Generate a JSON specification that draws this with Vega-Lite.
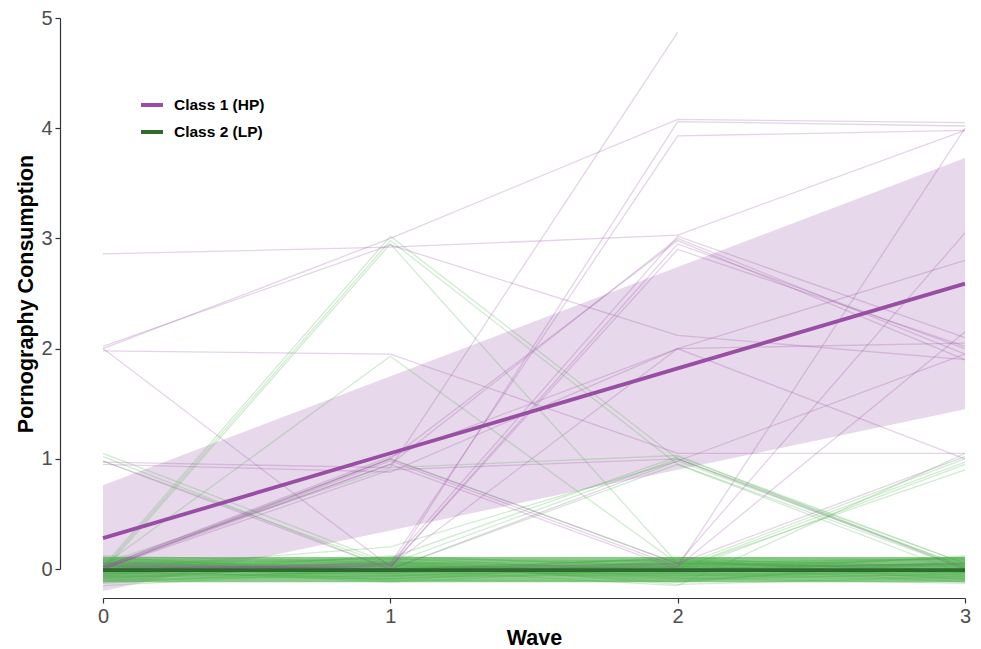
{
  "$schema": "https://vega.github.io/schema/vega-lite/v6.json",
  "width": 862,
  "height": 551,
  "autosize": {"type": "none"},
  "padding": {"left": 103, "top": 18, "right": 16, "bottom": 80},
  "background": "white",
  "config": {
    "view": {"stroke": null},
    "font": "Liberation Sans",
    "axis": {
      "grid": false,
      "domainColor": "#333333",
      "tickColor": "#333333",
      "domainWidth": 1.2,
      "tickWidth": 1.2,
      "tickSize": 5,
      "labelColor": "#4d4d4d",
      "labelFont": "Liberation Sans",
      "labelFontSize": 20,
      "labelFlush": false,
      "titleFont": "Liberation Sans",
      "titleFontSize": 21.5,
      "titleFontWeight": "bold",
      "titleColor": "#000000",
      "format": "d"
    },
    "axisX": {"offset": 29, "labelPadding": 3, "titlePadding": 1},
    "axisY": {"offset": 43, "labelPadding": 3, "titlePadding": 3}
  },
  "datasets": {
    "summary": [
      {"cls": "Class 1 (HP)", "wave": 0, "m": 0.28, "lo": -0.2, "hi": 0.76},
      {"cls": "Class 1 (HP)", "wave": 1, "m": 1.05, "lo": 0.35, "hi": 1.75},
      {"cls": "Class 1 (HP)", "wave": 2, "m": 1.82, "lo": 0.9, "hi": 2.74},
      {"cls": "Class 1 (HP)", "wave": 3, "m": 2.59, "lo": 1.45, "hi": 3.73},
      {"cls": "Class 2 (LP)", "wave": 0, "m": -0.01, "lo": -0.12, "hi": 0.11},
      {"cls": "Class 2 (LP)", "wave": 1, "m": -0.01, "lo": -0.12, "hi": 0.11},
      {"cls": "Class 2 (LP)", "wave": 2, "m": -0.01, "lo": -0.12, "hi": 0.11},
      {"cls": "Class 2 (LP)", "wave": 3, "m": -0.01, "lo": -0.12, "hi": 0.11}
    ],
    "traj": [
      {"id":"p1","k":1,"wave":0,"v":2.86},{"id":"p1","k":1,"wave":1,"v":2.92},{"id":"p1","k":1,"wave":2,"v":3.03},{"id":"p1","k":1,"wave":3,"v":3.98},
      {"id":"p2","k":1,"wave":0,"v":2.00},{"id":"p2","k":1,"wave":1,"v":3.00},{"id":"p2","k":1,"wave":2,"v":4.08},{"id":"p2","k":1,"wave":3,"v":4.05},
      {"id":"p3","k":1,"wave":0,"v":2.02},{"id":"p3","k":1,"wave":1,"v":2.94},{"id":"p3","k":1,"wave":2,"v":2.12},{"id":"p3","k":1,"wave":3,"v":1.90},
      {"id":"p4","k":1,"wave":0,"v":1.98},{"id":"p4","k":1,"wave":1,"v":1.95},{"id":"p4","k":1,"wave":2,"v":1.05},{"id":"p4","k":1,"wave":3,"v":1.05},
      {"id":"p5","k":1,"wave":0,"v":2.00},{"id":"p5","k":1,"wave":1,"v":0.02},{"id":"p5","k":1,"wave":2,"v":2.95},{"id":"p5","k":1,"wave":3,"v":2.00},
      {"id":"p6","k":1,"wave":0,"v":0.97},{"id":"p6","k":1,"wave":1,"v":0.92},{"id":"p6","k":1,"wave":2,"v":4.87},
      {"id":"p7","k":1,"wave":0,"v":0.95},{"id":"p7","k":1,"wave":1,"v":0.88},{"id":"p7","k":1,"wave":2,"v":2.00},{"id":"p7","k":1,"wave":3,"v":2.05},
      {"id":"p8","k":1,"wave":0,"v":0.02},{"id":"p8","k":1,"wave":1,"v":0.95},{"id":"p8","k":1,"wave":2,"v":3.00},{"id":"p8","k":1,"wave":3,"v":1.95},
      {"id":"p9","k":1,"wave":0,"v":0.00},{"id":"p9","k":1,"wave":1,"v":1.00},{"id":"p9","k":1,"wave":2,"v":0.05},{"id":"p9","k":1,"wave":3,"v":3.05},
      {"id":"p10","k":1,"wave":0,"v":0.00},{"id":"p10","k":1,"wave":1,"v":0.05},{"id":"p10","k":1,"wave":2,"v":3.93},{"id":"p10","k":1,"wave":3,"v":3.98},
      {"id":"p11","k":1,"wave":0,"v":0.03},{"id":"p11","k":1,"wave":1,"v":0.00},{"id":"p11","k":1,"wave":2,"v":4.06},{"id":"p11","k":1,"wave":3,"v":4.02},
      {"id":"p12","k":1,"wave":0,"v":0.00},{"id":"p12","k":1,"wave":1,"v":0.02},{"id":"p12","k":1,"wave":2,"v":2.90},{"id":"p12","k":1,"wave":3,"v":2.02},
      {"id":"p13","k":1,"wave":0,"v":-0.02},{"id":"p13","k":1,"wave":1,"v":0.05},{"id":"p13","k":1,"wave":2,"v":3.02},{"id":"p13","k":1,"wave":3,"v":2.10},
      {"id":"p14","k":1,"wave":0,"v":0.02},{"id":"p14","k":1,"wave":1,"v":1.02},{"id":"p14","k":1,"wave":2,"v":2.00},{"id":"p14","k":1,"wave":3,"v":2.80},
      {"id":"p15","k":1,"wave":0,"v":0.00},{"id":"p15","k":1,"wave":1,"v":0.98},{"id":"p15","k":1,"wave":2,"v":0.02},{"id":"p15","k":1,"wave":3,"v":2.15},
      {"id":"p16","k":1,"wave":0,"v":0.05},{"id":"p16","k":1,"wave":1,"v":0.00},{"id":"p16","k":1,"wave":2,"v":0.02},{"id":"p16","k":1,"wave":3,"v":4.00},
      {"id":"p17","k":1,"wave":0,"v":0.00},{"id":"p17","k":1,"wave":1,"v":0.90},{"id":"p17","k":1,"wave":2,"v":1.00},{"id":"p17","k":1,"wave":3,"v":0.00},
      {"id":"p18","k":1,"wave":0,"v":0.03},{"id":"p18","k":1,"wave":1,"v":0.00},{"id":"p18","k":1,"wave":2,"v":0.98},{"id":"p18","k":1,"wave":3,"v":1.95},
      {"id":"p19","k":1,"wave":0,"v":0.00},{"id":"p19","k":1,"wave":1,"v":0.03},{"id":"p19","k":1,"wave":2,"v":2.00},{"id":"p19","k":1,"wave":3,"v":1.00},
      {"id":"p20","k":1,"wave":0,"v":0.02},{"id":"p20","k":1,"wave":1,"v":1.00},{"id":"p20","k":1,"wave":2,"v":2.98},{"id":"p20","k":1,"wave":3,"v":1.90},
      {"id":"p21","k":1,"wave":0,"v":0.00},{"id":"p21","k":1,"wave":1,"v":0.95},{"id":"p21","k":1,"wave":2,"v":0.00},{"id":"p21","k":1,"wave":3,"v":0.05},
      {"id":"p22","k":1,"wave":0,"v":0.98},{"id":"p22","k":1,"wave":1,"v":0.00},{"id":"p22","k":1,"wave":2,"v":0.05},{"id":"p22","k":1,"wave":3,"v":1.02},

      {"id":"g1","k":2,"wave":0,"v":1.05},{"id":"g1","k":2,"wave":1,"v":0.05},{"id":"g1","k":2,"wave":2,"v":0.02},{"id":"g1","k":2,"wave":3,"v":-0.03},
      {"id":"g2","k":2,"wave":0,"v":1.02},{"id":"g2","k":2,"wave":1,"v":0.00},{"id":"g2","k":2,"wave":2,"v":0.95},{"id":"g2","k":2,"wave":3,"v":0.00},
      {"id":"g3","k":2,"wave":0,"v":0.98},{"id":"g3","k":2,"wave":1,"v":0.03},{"id":"g3","k":2,"wave":2,"v":0.00},{"id":"g3","k":2,"wave":3,"v":0.97},
      {"id":"g4","k":2,"wave":0,"v":0.02},{"id":"g4","k":2,"wave":1,"v":3.02},{"id":"g4","k":2,"wave":2,"v":1.00},{"id":"g4","k":2,"wave":3,"v":0.02},
      {"id":"g5","k":2,"wave":0,"v":-0.02},{"id":"g5","k":2,"wave":1,"v":2.95},{"id":"g5","k":2,"wave":2,"v":0.05},{"id":"g5","k":2,"wave":3,"v":0.00},
      {"id":"g6","k":2,"wave":0,"v":0.00},{"id":"g6","k":2,"wave":1,"v":2.98},{"id":"g6","k":2,"wave":2,"v":0.95},{"id":"g6","k":2,"wave":3,"v":-0.05},
      {"id":"g7","k":2,"wave":0,"v":0.03},{"id":"g7","k":2,"wave":1,"v":1.93},{"id":"g7","k":2,"wave":2,"v":0.05},{"id":"g7","k":2,"wave":3,"v":0.02},
      {"id":"g8","k":2,"wave":0,"v":0.00},{"id":"g8","k":2,"wave":1,"v":1.00},{"id":"g8","k":2,"wave":2,"v":0.05},{"id":"g8","k":2,"wave":3,"v":0.00},
      {"id":"g9","k":2,"wave":0,"v":0.05},{"id":"g9","k":2,"wave":1,"v":0.92},{"id":"g9","k":2,"wave":2,"v":1.03},{"id":"g9","k":2,"wave":3,"v":0.00},
      {"id":"g10","k":2,"wave":0,"v":0.00},{"id":"g10","k":2,"wave":1,"v":0.05},{"id":"g10","k":2,"wave":2,"v":1.00},{"id":"g10","k":2,"wave":3,"v":0.05},
      {"id":"g11","k":2,"wave":0,"v":0.00},{"id":"g11","k":2,"wave":1,"v":0.20},{"id":"g11","k":2,"wave":2,"v":0.98},{"id":"g11","k":2,"wave":3,"v":0.02},
      {"id":"g12","k":2,"wave":0,"v":0.02},{"id":"g12","k":2,"wave":1,"v":-0.02},{"id":"g12","k":2,"wave":2,"v":0.02},{"id":"g12","k":2,"wave":3,"v":1.00},
      {"id":"g13","k":2,"wave":0,"v":0.00},{"id":"g13","k":2,"wave":1,"v":0.03},{"id":"g13","k":2,"wave":2,"v":-0.03},{"id":"g13","k":2,"wave":3,"v":0.95},
      {"id":"g14","k":2,"wave":0,"v":-0.03},{"id":"g14","k":2,"wave":1,"v":0.00},{"id":"g14","k":2,"wave":2,"v":0.00},{"id":"g14","k":2,"wave":3,"v":0.90},
      {"id":"g15","k":2,"wave":0,"v":0.00},{"id":"g15","k":2,"wave":1,"v":0.00},{"id":"g15","k":2,"wave":2,"v":-0.15},{"id":"g15","k":2,"wave":3,"v":1.05},
      {"id":"g16","k":2,"wave":0,"v":0.05},{"id":"g16","k":2,"wave":1,"v":0.10},{"id":"g16","k":2,"wave":2,"v":1.02},{"id":"g16","k":2,"wave":3,"v":0.05},

      {"id":"g20","k":2,"wave":0,"v":0.02},{"id":"g20","k":2,"wave":1,"v":-0.03},{"id":"g20","k":2,"wave":2,"v":0.05},{"id":"g20","k":2,"wave":3,"v":0.01},
      {"id":"g21","k":2,"wave":0,"v":-0.05},{"id":"g21","k":2,"wave":1,"v":0.04},{"id":"g21","k":2,"wave":2,"v":-0.02},{"id":"g21","k":2,"wave":3,"v":0.06},
      {"id":"g22","k":2,"wave":0,"v":0.08},{"id":"g22","k":2,"wave":1,"v":0.01},{"id":"g22","k":2,"wave":2,"v":-0.06},{"id":"g22","k":2,"wave":3,"v":-0.03},
      {"id":"g23","k":2,"wave":0,"v":-0.10},{"id":"g23","k":2,"wave":1,"v":-0.06},{"id":"g23","k":2,"wave":2,"v":0.02},{"id":"g23","k":2,"wave":3,"v":0.04},
      {"id":"g24","k":2,"wave":0,"v":0.04},{"id":"g24","k":2,"wave":1,"v":0.09},{"id":"g24","k":2,"wave":2,"v":0.07},{"id":"g24","k":2,"wave":3,"v":-0.02},
      {"id":"g25","k":2,"wave":0,"v":-0.02},{"id":"g25","k":2,"wave":1,"v":-0.08},{"id":"g25","k":2,"wave":2,"v":-0.04},{"id":"g25","k":2,"wave":3,"v":-0.09},
      {"id":"g26","k":2,"wave":0,"v":0.06},{"id":"g26","k":2,"wave":1,"v":-0.01},{"id":"g26","k":2,"wave":2,"v":0.10},{"id":"g26","k":2,"wave":3,"v":0.08},
      {"id":"g27","k":2,"wave":0,"v":-0.07},{"id":"g27","k":2,"wave":1,"v":0.03},{"id":"g27","k":2,"wave":2,"v":-0.09},{"id":"g27","k":2,"wave":3,"v":0.00},
      {"id":"g28","k":2,"wave":0,"v":0.00},{"id":"g28","k":2,"wave":1,"v":0.06},{"id":"g28","k":2,"wave":2,"v":0.01},{"id":"g28","k":2,"wave":3,"v":-0.06},
      {"id":"g29","k":2,"wave":0,"v":0.11},{"id":"g29","k":2,"wave":1,"v":-0.04},{"id":"g29","k":2,"wave":2,"v":0.03},{"id":"g29","k":2,"wave":3,"v":0.09},
      {"id":"g30","k":2,"wave":0,"v":-0.13},{"id":"g30","k":2,"wave":1,"v":0.00},{"id":"g30","k":2,"wave":2,"v":-0.05},{"id":"g30","k":2,"wave":3,"v":-0.11},
      {"id":"g31","k":2,"wave":0,"v":0.03},{"id":"g31","k":2,"wave":1,"v":-0.11},{"id":"g31","k":2,"wave":2,"v":0.08},{"id":"g31","k":2,"wave":3,"v":0.03},
      {"id":"g32","k":2,"wave":0,"v":-0.04},{"id":"g32","k":2,"wave":1,"v":0.07},{"id":"g32","k":2,"wave":2,"v":-0.01},{"id":"g32","k":2,"wave":3,"v":0.11},
      {"id":"g33","k":2,"wave":0,"v":0.07},{"id":"g33","k":2,"wave":1,"v":0.02},{"id":"g33","k":2,"wave":2,"v":-0.10},{"id":"g33","k":2,"wave":3,"v":-0.04},
      {"id":"g34","k":2,"wave":0,"v":-0.08},{"id":"g34","k":2,"wave":1,"v":-0.02},{"id":"g34","k":2,"wave":2,"v":0.06},{"id":"g34","k":2,"wave":3,"v":0.02},
      {"id":"g35","k":2,"wave":0,"v":0.01},{"id":"g35","k":2,"wave":1,"v":0.10},{"id":"g35","k":2,"wave":2,"v":-0.03},{"id":"g35","k":2,"wave":3,"v":-0.07},
      {"id":"g36","k":2,"wave":0,"v":-0.01},{"id":"g36","k":2,"wave":1,"v":-0.05},{"id":"g36","k":2,"wave":2,"v":0.04},{"id":"g36","k":2,"wave":3,"v":0.07},
      {"id":"g37","k":2,"wave":0,"v":0.09},{"id":"g37","k":2,"wave":1,"v":0.05},{"id":"g37","k":2,"wave":2,"v":-0.07},{"id":"g37","k":2,"wave":3,"v":-0.01},
      {"id":"g38","k":2,"wave":0,"v":-0.06},{"id":"g38","k":2,"wave":1,"v":-0.09},{"id":"g38","k":2,"wave":2,"v":0.00},{"id":"g38","k":2,"wave":3,"v":0.05},
      {"id":"g39","k":2,"wave":0,"v":0.05},{"id":"g39","k":2,"wave":1,"v":0.00},{"id":"g39","k":2,"wave":2,"v":0.09},{"id":"g39","k":2,"wave":3,"v":-0.10},
      {"id":"g40","k":2,"wave":0,"v":-0.11},{"id":"g40","k":2,"wave":1,"v":0.08},{"id":"g40","k":2,"wave":2,"v":-0.08},{"id":"g40","k":2,"wave":3,"v":-0.05},
      {"id":"g41","k":2,"wave":0,"v":0.02},{"id":"g41","k":2,"wave":1,"v":-0.07},{"id":"g41","k":2,"wave":2,"v":0.02},{"id":"g41","k":2,"wave":3,"v":0.10},
      {"id":"g42","k":2,"wave":0,"v":-0.03},{"id":"g42","k":2,"wave":1,"v":0.01},{"id":"g42","k":2,"wave":2,"v":0.05},{"id":"g42","k":2,"wave":3,"v":-0.03},
      {"id":"g43","k":2,"wave":0,"v":0.10},{"id":"g43","k":2,"wave":1,"v":-0.03},{"id":"g43","k":2,"wave":2,"v":-0.02},{"id":"g43","k":2,"wave":3,"v":0.04},
      {"id":"g44","k":2,"wave":0,"v":-0.09},{"id":"g44","k":2,"wave":1,"v":0.05},{"id":"g44","k":2,"wave":2,"v":0.08},{"id":"g44","k":2,"wave":3,"v":-0.08},
      {"id":"g45","k":2,"wave":0,"v":0.03},{"id":"g45","k":2,"wave":1,"v":-0.06},{"id":"g45","k":2,"wave":2,"v":-0.06},{"id":"g45","k":2,"wave":3,"v":0.01},
      {"id":"g46","k":2,"wave":0,"v":-0.02},{"id":"g46","k":2,"wave":1,"v":0.11},{"id":"g46","k":2,"wave":2,"v":0.03},{"id":"g46","k":2,"wave":3,"v":-0.12},
      {"id":"g47","k":2,"wave":0,"v":0.06},{"id":"g47","k":2,"wave":1,"v":-0.10},{"id":"g47","k":2,"wave":2,"v":-0.11},{"id":"g47","k":2,"wave":3,"v":0.06},
      {"id":"g48","k":2,"wave":0,"v":-0.15},{"id":"g48","k":2,"wave":1,"v":-0.01},{"id":"g48","k":2,"wave":2,"v":0.07},{"id":"g48","k":2,"wave":3,"v":-0.02},
      {"id":"g49","k":2,"wave":0,"v":0.00},{"id":"g49","k":2,"wave":1,"v":0.03},{"id":"g49","k":2,"wave":2,"v":-0.04},{"id":"g49","k":2,"wave":3,"v":0.12},
      {"id":"g50","k":2,"wave":0,"v":0.04},{"id":"g50","k":2,"wave":1,"v":-0.04},{"id":"g50","k":2,"wave":2,"v":0.11},{"id":"g50","k":2,"wave":3,"v":-0.06},
      {"id":"g51","k":2,"wave":0,"v":-0.05},{"id":"g51","k":2,"wave":1,"v":0.09},{"id":"g51","k":2,"wave":2,"v":-0.01},{"id":"g51","k":2,"wave":3,"v":0.03},
      {"id":"g52","k":2,"wave":0,"v":0.07},{"id":"g52","k":2,"wave":1,"v":-0.02},{"id":"g52","k":2,"wave":2,"v":0.04},{"id":"g52","k":2,"wave":3,"v":-0.09},
      {"id":"g53","k":2,"wave":0,"v":-0.08},{"id":"g53","k":2,"wave":1,"v":0.04},{"id":"g53","k":2,"wave":2,"v":-0.12},{"id":"g53","k":2,"wave":3,"v":0.08},
      {"id":"g54","k":2,"wave":0,"v":0.01},{"id":"g54","k":2,"wave":1,"v":-0.12},{"id":"g54","k":2,"wave":2,"v":0.01},{"id":"g54","k":2,"wave":3,"v":-0.04},
      {"id":"g55","k":2,"wave":0,"v":0.12},{"id":"g55","k":2,"wave":1,"v":0.06},{"id":"g55","k":2,"wave":2,"v":-0.05},{"id":"g55","k":2,"wave":3,"v":0.00},
      {"id":"g56","k":2,"wave":0,"v":-0.04},{"id":"g56","k":2,"wave":1,"v":-0.07},{"id":"g56","k":2,"wave":2,"v":0.06},{"id":"g56","k":2,"wave":3,"v":0.09},
      {"id":"g57","k":2,"wave":0,"v":0.03},{"id":"g57","k":2,"wave":1,"v":0.02},{"id":"g57","k":2,"wave":2,"v":-0.08},{"id":"g57","k":2,"wave":3,"v":-0.13},
      {"id":"g58","k":2,"wave":0,"v":-0.06},{"id":"g58","k":2,"wave":1,"v":0.12},{"id":"g58","k":2,"wave":2,"v":0.02},{"id":"g58","k":2,"wave":3,"v":0.05},
      {"id":"g59","k":2,"wave":0,"v":0.08},{"id":"g59","k":2,"wave":1,"v":-0.05},{"id":"g59","k":2,"wave":2,"v":-0.03},{"id":"g59","k":2,"wave":3,"v":-0.01},
      {"id":"g60","k":2,"wave":0,"v":-0.12},{"id":"g60","k":2,"wave":1,"v":0.00},{"id":"g60","k":2,"wave":2,"v":0.09},{"id":"g60","k":2,"wave":3,"v":0.02},
      {"id":"g61","k":2,"wave":0,"v":0.02},{"id":"g61","k":2,"wave":1,"v":0.07},{"id":"g61","k":2,"wave":2,"v":-0.14},{"id":"g61","k":2,"wave":3,"v":-0.07},
      {"id":"g62","k":2,"wave":0,"v":-0.03},{"id":"g62","k":2,"wave":1,"v":-0.09},{"id":"g62","k":2,"wave":2,"v":0.05},{"id":"g62","k":2,"wave":3,"v":0.10},
      {"id":"g63","k":2,"wave":0,"v":0.05},{"id":"g63","k":2,"wave":1,"v":0.04},{"id":"g63","k":2,"wave":2,"v":0.00},{"id":"g63","k":2,"wave":3,"v":-0.03},
      {"id":"g64","k":2,"wave":0,"v":-0.07},{"id":"g64","k":2,"wave":1,"v":-0.03},{"id":"g64","k":2,"wave":2,"v":0.03},{"id":"g64","k":2,"wave":3,"v":0.04}
    ]
  },
  "layer": [
    {
      "data": {"name": "summary"},
      "transform": [{"filter": "datum.cls === 'Class 1 (HP)'"}],
      "mark": {"type": "area", "color": "#984ea3", "opacity": 0.22, "clip": false},
      "encoding": {
        "x": {"field": "wave", "type": "quantitative", "scale": {"domain": [0, 3], "nice": false, "zero": false}, "axis": {"values": [0, 1, 2, 3]}, "title": "Wave"},
        "y": {"field": "lo", "type": "quantitative", "scale": {"domain": [0, 5], "nice": false, "zero": false}, "axis": {"values": [0, 1, 2, 3, 4, 5]}, "title": "Pornography Consumption"},
        "y2": {"field": "hi"}
      }
    },
    {
      "data": {"name": "summary"},
      "transform": [{"filter": "datum.cls === 'Class 2 (LP)'"}],
      "mark": {"type": "area", "color": "#4daf4a", "opacity": 0.65},
      "encoding": {
        "x": {"field": "wave", "type": "quantitative", "title": "Wave"},
        "y": {"field": "lo", "type": "quantitative", "title": "Pornography Consumption"},
        "y2": {"field": "hi"}
      }
    },
    {
      "data": {"name": "traj"},
      "transform": [{"filter": "datum.k === 2"}],
      "mark": {"type": "line", "color": "#4daf4a", "opacity": 0.25, "strokeWidth": 1.3},
      "encoding": {
        "x": {"field": "wave", "type": "quantitative", "title": "Wave"},
        "y": {"field": "v", "type": "quantitative", "title": "Pornography Consumption"},
        "detail": {"field": "id"}
      }
    },
    {
      "data": {"name": "traj"},
      "transform": [{"filter": "datum.k === 1"}],
      "mark": {"type": "line", "color": "#984ea3", "opacity": 0.25, "strokeWidth": 1.3},
      "encoding": {
        "x": {"field": "wave", "type": "quantitative", "title": "Wave"},
        "y": {"field": "v", "type": "quantitative", "title": "Pornography Consumption"},
        "detail": {"field": "id"}
      }
    },
    {
      "data": {"name": "summary"},
      "mark": {"type": "line", "strokeWidth": 3.8},
      "encoding": {
        "x": {"field": "wave", "type": "quantitative", "title": "Wave"},
        "y": {"field": "m", "type": "quantitative", "title": "Pornography Consumption"},
        "color": {
          "field": "cls",
          "type": "nominal",
          "scale": {"domain": ["Class 1 (HP)", "Class 2 (LP)"], "range": ["#984ea3", "#2e6b2e"]},
          "legend": {
            "orient": "none",
            "legendX": 36,
            "legendY": 74,
            "title": null,
            "symbolType": "stroke",
            "symbolStrokeWidth": 4,
            "symbolSize": 484,
            "labelFont": "Liberation Sans",
            "labelFontSize": 15.5,
            "labelFontWeight": "bold",
            "labelColor": "#000000",
            "labelOffset": 9,
            "rowPadding": 5
          }
        }
      }
    }
  ]
}
